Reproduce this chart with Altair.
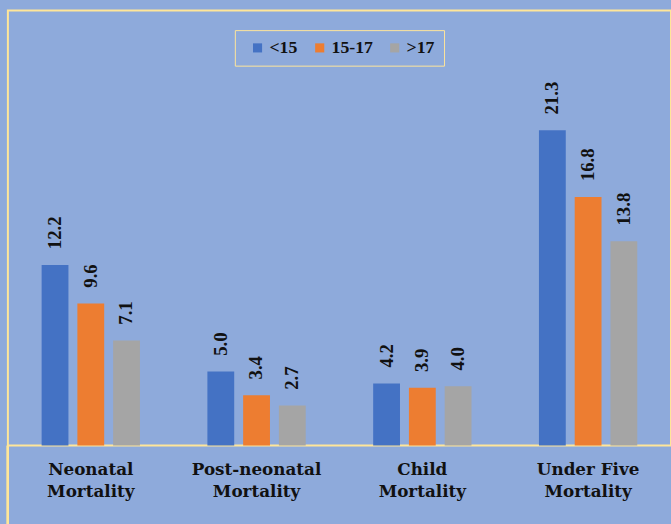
import altair as alt
import pandas as pd

categories = ["Neonatal Mortality", "Post-neonatal Mortality", "Child Mortality", "Under Five Mortality"]
groups = ["<15", "15-17", ">17"]
vals_lt15 = [12.2, 5.0, 4.2, 21.3]
vals_15_17 = [9.6, 3.4, 3.9, 16.8]
vals_gt17 = [7.1, 2.7, 4.0, 13.8]
colors = ["#4472c4", "#ed7d31", "#a5a5a5"]

rows = []
for i, c in enumerate(categories):
    for g, vals in zip(groups, [vals_lt15, vals_15_17, vals_gt17]):
        rows.append({"cat": c, "grp": g, "val": vals[i]})
df = pd.DataFrame(rows)

BG = "#8eaadb"
YEL = "#ffe699"
SERIF = "Liberation Serif"

x = alt.X("cat:N", sort=categories, title=None,
          scale=alt.Scale(paddingInner=0.353, paddingOuter=0.1765),
          axis=alt.Axis(labelAngle=0, ticks=False, domain=False,
                        labelFont="DejaVu Serif", labelFontSize=17, labelFontWeight="bold",
                        labelColor="#111111", labelPadding=16, labelLineHeight=23,
                        labelBaseline="top", labelLimit=200,
                        labelExpr="datum.label == 'Under Five Mortality' ? ['Under Five', 'Mortality'] : split(datum.label, ' ')"))
xo = alt.XOffset("grp:N", sort=groups, scale=alt.Scale(paddingInner=0.25, paddingOuter=0.125))
y = alt.Y("val:Q", scale=alt.Scale(domain=[0, 29.4], nice=False, zero=True), axis=None)

bars = alt.Chart(df).mark_bar().encode(
    x=x, xOffset=xo, y=y,
    color=alt.Color("grp:N", sort=groups, scale=alt.Scale(domain=groups, range=colors),
                    legend=alt.Legend(title=None, orient="none", direction="horizontal",
                                      legendX=230, legendY=20, strokeColor=YEL,
                                      padding=9, symbolType="square", symbolSize=85,
                                      symbolStrokeWidth=0, labelFont=SERIF, labelFontSize=18,
                                      labelFontWeight="bold", labelColor="#111111",
                                      columnPadding=8, symbolOffset=5, labelOffset=3))
)

labels = alt.Chart(df).mark_text(angle=270, align="left", baseline="middle", dx=16,
                                 font=SERIF, fontSize=19, fontWeight="bold", color="#111111").encode(
    x=x, xOffset=xo, y=y, text=alt.Text("val:Q", format=".1f")
)

left_line = alt.Chart(df).mark_rule(color=YEL, strokeWidth=2, clip=False).encode(
    x=alt.value(0), y=alt.value(441), y2=alt.value(540)
)

chart = alt.layer(bars, labels, left_line).properties(
    width=672, height=441, background=BG,
    padding={"left": 8, "top": 7, "right": 0, "bottom": 80},
    autosize=alt.AutoSizeParams(type="none")
).configure_view(stroke=YEL, strokeWidth=2)

chart.save("out.html", embed_options={"renderer": "svg", "actions": False})
